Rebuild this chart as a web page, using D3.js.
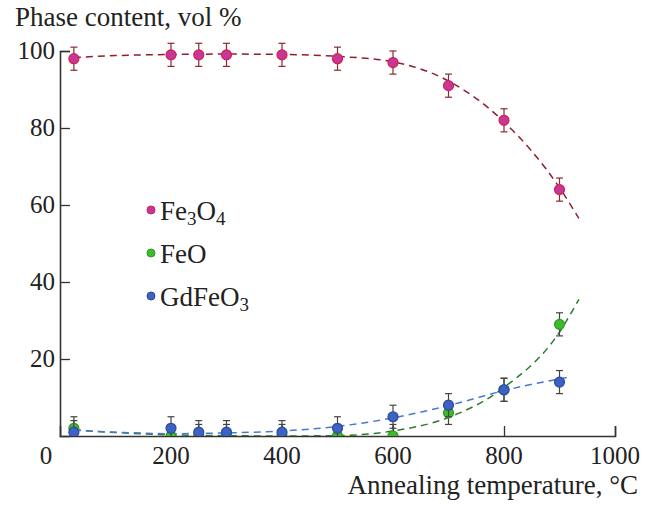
<!DOCTYPE html>
<html>
<head>
<meta charset="utf-8">
<script src="https://cdn.jsdelivr.net/npm/d3@7"></script>
<style>
	body { margin: 0; background: white; }
	svg text { font-family: "Liberation Serif", "DejaVu Serif", serif; fill: #222; }
</style>
</head>
<body>
<svg id="chart" width="652" height="505"></svg>
<script>

// temperatures of the measured samples
let temps = [25, 200, 250, 300, 400, 500, 600, 700, 800, 900];

// phase contents, vol %
let fe3o4 = [98, 99, 99, 99, 99, 98, 97, 91, 82, 64];
let feo = [2, 0, 0, 0, 0, 0, 0, 6, 12, 29];
let gdfeo3 = [1, 2, 1, 1, 1, 2, 5, 8, 12, 14];
let errors = [3, 3, 3, 3, 3, 3, 3, 3, 3, 3];

// dashed fit curves
let fitFe3o4 = [[25, 98.3], [100, 98.8], [200, 99.1], [300, 99.2], [400, 99.1], [500, 98.6], [600, 97.2], [700, 92.2], [800, 81.6], [900, 64.5], [935, 56.5]];
let fitFeo = [[25, 1.6], [100, 0.9], [200, 0.3], [300, 0.1], [400, 0], [500, 0.1], [600, 1.3], [700, 4.8], [800, 12.6], [900, 27], [935, 35.5]];
let fitGdfeo3 = [[25, 1.5], [100, 1], [200, 0.6], [300, 0.8], [400, 1.3], [500, 2.5], [600, 4.7], [700, 7.9], [800, 11.8], [913, 15.2]];

let xTicks = [200, 400, 600, 800, 1000];
let yTicks = [20, 40, 60, 80, 100];

let series = [
	{ name: 'Fe3O4', values: fe3o4, fit: fitFe3o4, fill: '#c4389a', stroke: '#d81e4a', line: '#8e1f2c', bar: '#8a2a30' },
	{ name: 'FeO', values: feo, fit: fitFeo, fill: '#3dbb2c', stroke: '#2f9a2a', line: '#2c7a2c', bar: '#444' },
	{ name: 'GdFeO3', values: gdfeo3, fit: fitGdfeo3, fill: '#3c62c4', stroke: '#2d4a9a', line: '#4a78cc', bar: '#444' }
];

let svg = d3.select('#chart');

let x = d3.scaleLinear().domain([0, 1000]).range([60, 615]);
let y = d3.scaleLinear().domain([0, 100]).range([436, 51]);

svg.append('defs').append('clipPath').attr('id', 'plot')
	.append('rect').attr('x', 60).attr('y', 0).attr('width', 600).attr('height', 436);

// axes
let xAxis = svg.append('g')
	.attr('transform', `translate(0,${y(0)})`)
	.call(d3.axisTop(x).tickValues(xTicks).tickSize(10).tickFormat(''));
let yAxis = svg.append('g')
	.attr('transform', `translate(${x(0)},0)`)
	.call(d3.axisRight(y).tickValues(yTicks).tickSize(10).tickFormat(''));
[xAxis, yAxis].forEach(function (g) {
	g.select('.domain').attr('stroke', '#333').attr('stroke-width', 1.6);
	g.selectAll('.tick line').attr('stroke', '#333').attr('stroke-width', 1.3);
});

svg.selectAll('.xlab').data(xTicks).enter().append('text')
	.attr('x', d => x(d)).attr('y', 464)
	.attr('text-anchor', 'middle').attr('font-size', 25)
	.text(d => d);
svg.append('text').attr('x', 46).attr('y', 464)
	.attr('text-anchor', 'middle').attr('font-size', 25).text('0');

svg.selectAll('.ylab').data(yTicks).enter().append('text')
	.attr('x', 55).attr('y', d => y(d) + 8)
	.attr('text-anchor', 'end').attr('font-size', 25)
	.text(d => d);

svg.append('text').attr('x', 15).attr('y', 26).attr('font-size', 27)
	.text('Phase content, vol %');
svg.append('text').attr('x', 638).attr('y', 494).attr('text-anchor', 'end').attr('font-size', 27)
	.text('Annealing temperature, °C');

let line = d3.line().x(d => x(d[0])).y(d => y(d[1])).curve(d3.curveMonotoneX);

let plot = svg.append('g').attr('clip-path', 'url(#plot)');

// fit curves
series.forEach(function (s) {
	plot.append('path').datum(s.fit)
		.attr('d', line)
		.attr('fill', 'none')
		.attr('stroke', s.line)
		.attr('stroke-width', 1.5)
		.attr('stroke-dasharray', '7,5');
});

// error bars and points, drawn in order so blue lies on top
series.forEach(function (s) {
	let g = plot.append('g');
	temps.forEach(function (t, i) {
		let v = s.values[i], e = errors[i];
		g.append('line')
			.attr('x1', x(t)).attr('x2', x(t))
			.attr('y1', y(v - e)).attr('y2', y(v + e))
			.attr('stroke', s.bar).attr('stroke-width', 1.2);
		[v - e, v + e].forEach(function (c) {
			g.append('line')
				.attr('x1', x(t) - 3.5).attr('x2', x(t) + 3.5)
				.attr('y1', y(c)).attr('y2', y(c))
				.attr('stroke', s.bar).attr('stroke-width', 1.2);
		});
	});
	g.selectAll('circle').data(s.values).enter().append('circle')
		.attr('cx', (d, i) => x(temps[i]))
		.attr('cy', d => y(d))
		.attr('r', 5)
		.attr('fill', s.fill)
		.attr('stroke', s.stroke)
		.attr('stroke-width', 1.2);
});

// legend
let legendY = [210, 253, 296];
let legendLabels = [
	[['Fe', 0], ['3', 1], ['O', 0], ['4', 1]],
	[['FeO', 0]],
	[['GdFeO', 0], ['3', 1]]
];
series.forEach(function (s, i) {
	svg.append('circle')
		.attr('cx', 151).attr('cy', legendY[i]).attr('r', 4)
		.attr('fill', s.fill).attr('stroke', s.stroke).attr('stroke-width', 1);
	let txt = svg.append('text')
		.attr('x', 160).attr('y', legendY[i] + 10)
		.attr('font-size', 27);
	legendLabels[i].forEach(function (p) {
		let ts = txt.append('tspan').text(p[0]);
		if (p[1]) ts.attr('font-size', 19).attr('dy', 5);
		else ts.attr('dy', txt.selectAll('tspan').size() > 1 ? -5 : 0);
	});
});

</script>
</body>
</html>
